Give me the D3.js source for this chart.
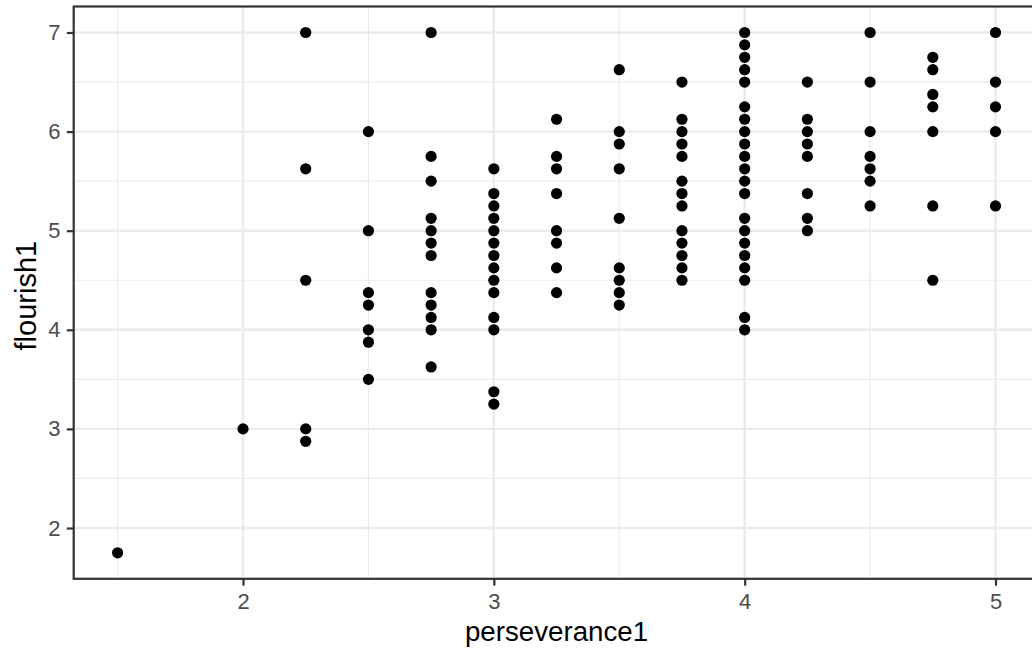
<!DOCTYPE html>
<html>
<head>
<meta charset="utf-8">
<script src="https://cdn.jsdelivr.net/npm/d3@7"></script>
<style>
  html, body { margin: 0; padding: 0; background: #fff; }
  svg { display: block; }
  text { font-family: "Liberation Sans", Arial, Helvetica, sans-serif; }
</style>
</head>
<body>
<svg id="chart" width="1032" height="649"></svg>
<script>
// ---- data ----
const perseveranceLevels = [1.5, 2, 2.25, 2.5, 2.75, 3, 3.25, 3.5, 3.75, 4, 4.25, 4.5, 4.75, 5];
const flourishAtLevel = [
  [1.75],
  [3],
  [7, 5.625, 4.5, 3, 2.875],
  [6, 5, 4.375, 4.25, 4, 3.875, 3.5],
  [7, 5.75, 5.5, 5.125, 5, 4.875, 4.75, 4.375, 4.25, 4.125, 4, 3.625],
  [5.625, 5.375, 5.25, 5.125, 5, 4.875, 4.75, 4.625, 4.5, 4.375, 4.125, 4, 3.375, 3.25],
  [6.125, 5.75, 5.625, 5.375, 5, 4.875, 4.625, 4.375],
  [6.625, 6, 5.875, 5.625, 5.125, 4.625, 4.5, 4.375, 4.25],
  [6.5, 6.125, 6, 5.875, 5.75, 5.5, 5.375, 5.25, 5, 4.875, 4.75, 4.625, 4.5],
  [7, 6.875, 6.75, 6.625, 6.5, 6.25, 6.125, 6, 5.875, 5.75, 5.625, 5.5, 5.375, 5.125, 5, 4.875, 4.75, 4.625, 4.5, 4.125, 4],
  [6.5, 6.125, 6, 5.875, 5.75, 5.375, 5.125, 5],
  [7, 6.5, 6, 5.75, 5.625, 5.5, 5.25],
  [6.75, 6.625, 6.375, 6.25, 6, 5.25, 4.5],
  [7, 6.5, 6.25, 6, 5.25]
];
const xTicks = [2, 3, 4, 5];
const xMinor = [1.5, 2.5, 3.5, 4.5];
const yTicks = [2, 3, 4, 5, 6, 7];
const yMinor = [2.5, 3.5, 4.5, 5.5, 6.5];
const xTitle = "perseverance1";
const yTitle = "flourish1";

const points = [];
perseveranceLevels.forEach((xv, i) => flourishAtLevel[i].forEach(yv => points.push({x: xv, y: yv})));

// ---- layout ----
const svg = d3.select("#chart");
const panel = {left: 73.7, top: 6.5, right: 1039.4, bottom: 578.8};

const xExt = d3.extent(points, d => d.x);
const yExt = d3.extent(points, d => d.y);
const xPad = (xExt[1] - xExt[0]) * 0.05;
const yPad = (yExt[1] - yExt[0]) * 0.05;

const x = d3.scaleLinear().domain([xExt[0] - xPad, xExt[1] + xPad]).range([panel.left, panel.right]);
const y = d3.scaleLinear().domain([yExt[0] - yPad, yExt[1] + yPad]).range([panel.bottom, panel.top]);

const gridCol = "#EBEBEB";
const grid = svg.append("g");
grid.selectAll(".ymin").data(yMinor).join("line")
  .attr("x1", panel.left).attr("x2", panel.right)
  .attr("y1", d => y(d)).attr("y2", d => y(d))
  .attr("stroke", gridCol).attr("stroke-width", 1.2);
grid.selectAll(".xmin").data(xMinor).join("line")
  .attr("y1", panel.top).attr("y2", panel.bottom)
  .attr("x1", d => x(d)).attr("x2", d => x(d))
  .attr("stroke", gridCol).attr("stroke-width", 1.2);
grid.selectAll(".ymaj").data(yTicks).join("line")
  .attr("x1", panel.left).attr("x2", panel.right)
  .attr("y1", d => y(d)).attr("y2", d => y(d))
  .attr("stroke", gridCol).attr("stroke-width", 2.4);
grid.selectAll(".xmaj").data(xTicks).join("line")
  .attr("y1", panel.top).attr("y2", panel.bottom)
  .attr("x1", d => x(d)).attr("x2", d => x(d))
  .attr("stroke", gridCol).attr("stroke-width", 2.4);

// points
svg.append("g").selectAll("circle").data(points).join("circle")
  .attr("cx", d => x(d.x)).attr("cy", d => y(d.y))
  .attr("r", 5.6).attr("fill", "#000");

// panel border
svg.append("rect")
  .attr("x", panel.left).attr("y", panel.top)
  .attr("width", panel.right - panel.left).attr("height", panel.bottom - panel.top)
  .attr("fill", "none").attr("stroke", "#333333").attr("stroke-width", 2.2);

// axes
const tickFont = 22;
const xAxis = d3.axisBottom(x).tickValues(xTicks).tickSize(6.9).tickPadding(7.5).tickFormat(d3.format("d"));
const gx = svg.append("g").attr("transform", `translate(0,${panel.bottom})`).call(xAxis);
gx.select(".domain").remove();
gx.selectAll(".tick line").attr("stroke", "#333333").attr("stroke-width", 2.2);
gx.selectAll(".tick text").attr("fill", "#4D4D4D").attr("font-size", tickFont)
  .attr("font-family", "'Liberation Sans', Arial, sans-serif");

const yAxis = d3.axisLeft(y).tickValues(yTicks).tickSize(6.9).tickPadding(6.3).tickFormat(d3.format("d"));
const gy = svg.append("g").attr("transform", `translate(${panel.left},0)`).call(yAxis);
gy.select(".domain").remove();
gy.selectAll(".tick line").attr("stroke", "#333333").attr("stroke-width", 2.2);
gy.selectAll(".tick text").attr("fill", "#4D4D4D").attr("font-size", tickFont)
  .attr("font-family", "'Liberation Sans', Arial, sans-serif");

// titles
svg.append("text")
  .attr("x", (panel.left + panel.right) / 2).attr("y", 641)
  .attr("text-anchor", "middle").attr("font-size", 27.7).attr("fill", "#000")
  .text(xTitle);
svg.append("text")
  .attr("transform", `translate(36,${(panel.top + panel.bottom) / 2 + 3}) rotate(-90)`)
  .attr("text-anchor", "middle").attr("font-size", 29).attr("fill", "#000")
  .text(yTitle);
</script>
</body>
</html>
